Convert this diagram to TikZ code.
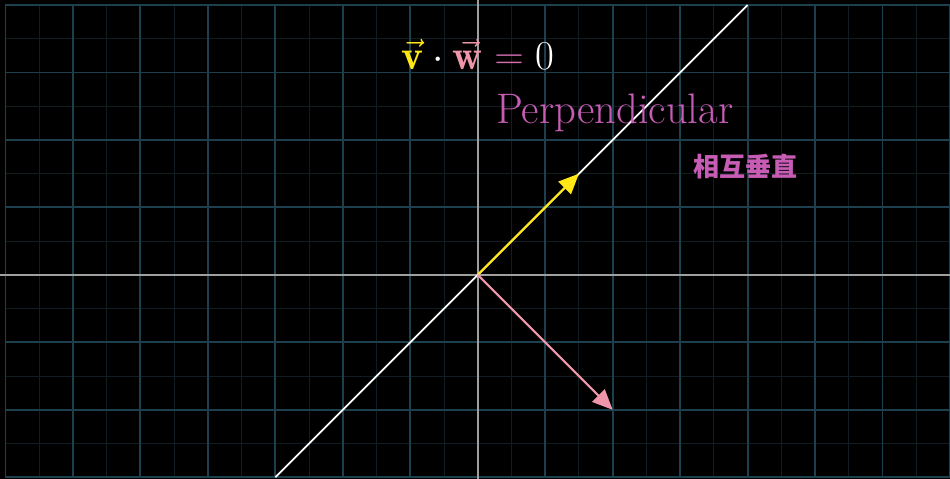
\documentclass[tikz,border=0pt]{standalone}
\usepackage{amsmath, amssymb}
\usepackage{xcolor}
\usepackage{fontspec}
\newfontfamily\cjkfont{Noto Sans CJK SC}
\usepackage{tikz}
\usetikzlibrary{positioning, arrows.meta, calc}

\definecolor{gridmajor}{RGB}{29,64,78}
\definecolor{gridminor}{RGB}{16,30,35}
\definecolor{vyellow}{RGB}{255,232,20}
\definecolor{wpink}{RGB}{240,150,170}
\definecolor{orchid}{RGB}{198,92,180}

\begin{document}
\begin{tikzpicture}[
    vec/.style={line width=0.9pt, -{Triangle[length=0.3cm, width=0.26cm]}},
    label/.style={text=orchid, inner sep=0pt}
]
    % background and bounding box
    \fill[black] (-7.081,-3.022) rectangle (7.0,4.074);
    \useasboundingbox (-7.081,-3.022) rectangle (7.0,4.074);
    \clip (-7.081,-3.022) rectangle (7.0,4.074);

    % grid
    \draw[gridminor, line width=0.4pt] (-7,-3) grid[step=0.5] (7,4);
    \draw[gridmajor, line width=0.8pt] (-7,-3) grid[step=1] (7,4);
    \draw[gray!75, line width=0.7pt] (-7.1,0) -- (7.1,0);
    \draw[gray!75, line width=0.7pt] (0,-3.1) -- (0,4.1);

    \coordinate (o) at (0,0);
    \coordinate (lo) at (-3,-3);
    \coordinate (hi) at (4,4);
    \coordinate (v) at (1.5,1.5);
    \coordinate (w) at (2,-2);

    % the line and the two vectors
    \draw[white, line width=0.7pt] (lo) -- (hi);
    \draw[vec, vyellow] (o) -- (v);
    \draw[vec, wpink] (o) -- (w);

    % texts
    \node (dot) [anchor=base, inner sep=0pt, text=white] at (0,3.04)
        {\fontsize{17.5}{21}\selectfont
         $\color{vyellow}\vec{\mathbf{v}}\color{white}\cdot
          \color{wpink}\vec{\mathbf{w}}\color{orchid!70!wpink}=\color{white}0$};
    \node (perp) [label, anchor=base] at (2.03,2.25)
        {\fontsize{18}{21}\selectfont Perpendicular};
    \node (zh) [label] at (3.97,1.61)
        {\cjkfont\bfseries\fontsize{11}{13}\selectfont 相互垂直};
\end{tikzpicture}
\end{document}
